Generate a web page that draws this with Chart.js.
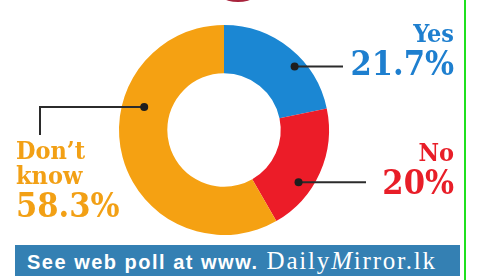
<!DOCTYPE html>
<html>
<head>
<meta charset="utf-8">
<script src="https://cdn.jsdelivr.net/npm/chart.js@4/dist/chart.umd.min.js"></script>
<style>
  body { margin: 0; background: #fff; }
  #wrap { position: relative; width: 486px; height: 280px; overflow: hidden; background: #fff; }
  #myChart { position: absolute; left: 0; top: 0; }
  .lbl { position: absolute; font-family: "DejaVu Serif Condensed", "DejaVu Serif", serif; font-weight: bold; font-stretch: condensed; line-height: 1; white-space: nowrap; }
  .name { font-size: 25px; }
  .pct { font-size: 34px; }
  .right { text-align: right; right: 32px; }
  #banner { position: absolute; left: 15px; top: 245px; width: 445px; height: 31px; background: #3480b3; color: #fff; }
  #bannerText { position: absolute; left: 12px; top: 2px; white-space: nowrap; }
  .sans { font-family: "Liberation Sans", Arial, sans-serif; font-weight: bold; font-size: 20px; letter-spacing: 1.5px; }
  .serif { font-family: "Liberation Serif", serif; font-size: 25px; letter-spacing: 1.8px; }
  #greenline { position: absolute; left: 464px; top: 0; width: 2px; height: 280px; background: #1fe01f; }
</style>
</head>
<body>
<div id="wrap">
  <canvas id="myChart" width="486" height="280"></canvas>
  <div id="labels"></div>
  <div id="banner"><div id="bannerText"></div></div>
  <div id="greenline"></div>
</div>
<script>
// poll data
var categories = ["Yes", "No", "Don\u2019t know"];
var values = [21.7, 20, 58.3];
var colors = ["#1b87d3", "#ec1c28", "#f5a112"];
var textColors = ["#1e7fcf", "#e81e28", "#f2a015"];

// label boxes (name + percentage)
var labelBoxes = [
  { right: true, top: 21 },
  { right: true, top: 140 },
  { right: false, left: 16, top: 138 }
];
// leader dots: angle (deg, clockwise from 3 o'clock) and radius inside the ring
var dotAngles = [-42, 35, -164];
var dotRadius = [95, 91, 83];

var leaderPlugin = {
  id: "leaders",
  beforeDraw: function (c) {
    // bit of the previous graphic poking in at the top
    var ctx = c.ctx;
    ctx.save();
    ctx.fillStyle = "#a8233c";
    ctx.beginPath();
    ctx.ellipse(238, -16, 26, 18, 0, 0, Math.PI * 2);
    ctx.fill();
    ctx.restore();
  },
  afterDraw: function (c) {
    var ctx = c.ctx;
    var arc = c.getDatasetMeta(0).data[0];
    var cx = arc.x, cy = arc.y;
    ctx.save();
    ctx.strokeStyle = "#2b2b2b";
    ctx.fillStyle = "#1e1e1e";
    ctx.lineWidth = 2;
    var ends = [[343, null], [366, null], [40, 135]];
    for (var i = 0; i < values.length; i++) {
      var a = dotAngles[i] * Math.PI / 180;
      var dx = cx + Math.cos(a) * dotRadius[i];
      var dy = cy + Math.sin(a) * dotRadius[i];
      ctx.beginPath();
      ctx.moveTo(dx, dy);
      ctx.lineTo(ends[i][0], dy);
      if (ends[i][1] !== null) ctx.lineTo(ends[i][0], ends[i][1]);
      ctx.stroke();
      ctx.beginPath();
      ctx.arc(dx, dy, 4, 0, Math.PI * 2);
      ctx.fill();
    }
    ctx.restore();
  }
};

var ctx = document.getElementById("myChart").getContext("2d");
var chart = new Chart(ctx, {
  type: "doughnut",
  data: {
    labels: categories,
    datasets: [
      {
        data: values,
        backgroundColor: colors,
        borderWidth: 0
      }
    ]
  },
  options: {
    responsive: false,
    animation: false,
    cutout: "54%",
    layout: { padding: { left: 119, right: 157, top: 25, bottom: 45 } },
    plugins: { legend: { display: false }, tooltip: { enabled: false } }
  },
  plugins: [leaderPlugin]
});

// labels
var holder = document.getElementById("labels");
for (var i = 0; i < categories.length; i++) {
  var b = labelBoxes[i];
  var d = document.createElement("div");
  d.className = "lbl" + (b.right ? " right" : "");
  d.style.top = b.top + "px";
  if (!b.right) d.style.left = b.left + "px";
  d.style.color = textColors[i];
  var words = categories[i].split(" ");
  d.innerHTML = '<div class="name">' + words.join("<br>") + '</div><div class="pct">' + values[i] + '%</div>';
  holder.appendChild(d);
}

document.getElementById("bannerText").innerHTML =
  '<span class="sans">See web poll at www.</span>' +
  '<span class="serif"> Daily<i>M</i>irror.lk</span>';
</script>
</body>
</html>
